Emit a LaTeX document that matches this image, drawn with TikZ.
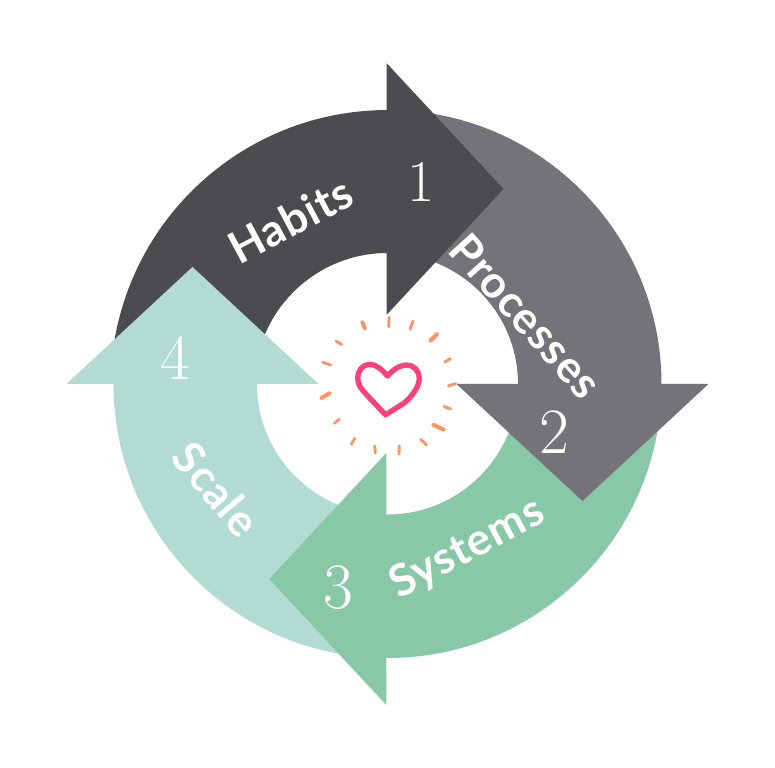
\documentclass[tikz,border=0pt]{standalone}
\usepackage{xcolor}
\usepackage{fontspec}
\usepackage{tikz}
\usetikzlibrary{positioning}
\newfontfamily\wordfont[LetterSpace=2]{Lato}
\definecolor{habitsgray}{HTML}{4C4B50}
\definecolor{processgray}{HTML}{747379}
\definecolor{systemsgreen}{HTML}{89C8A6}
\definecolor{scaleteal}{HTML}{B2DBD3}
\definecolor{heartpink}{HTML}{FC4079}
\definecolor{sparkorange}{HTML}{FF9264}
% one quarter of the ring and one arrow head, both for the top left
\def\ringpart{(178:274) arc[start angle=178,end angle=90,radius=274] -- (3,274) -- (3,130.5) -- (0,130.5) arc[start angle=90,end angle=178,radius=130.5] -- cycle}
\def\headpart{(0,321) -- (117,195) -- (0,69) -- cycle}

\begin{document}
\begin{tikzpicture}[x=0.025cm,y=0.025cm]
    \tikzstyle{word label} = [text=white, font=\wordfont\bfseries\fontsize{31.5}{31.5}\selectfont]
    \tikzstyle{number label} = [text=white, font=\fontsize{46}{46}\selectfont]
    \tikzstyle{spark} = [sparkorange, line cap=round, line width=2pt]
    \tikzstyle{big spark} = [spark, line width=2.8pt]
    \useasboundingbox (-387.5,-384) rectangle (387.5,384);
    % the ring, each head lies on the next quarter
    \fill[habitsgray] (-274.3,35.5) arc[start angle=172,end angle=90,radius=277] -- (3,274) -- (3,131)
      -- (0,131) arc[start angle=90,end angle=172,radius=133] -- cycle;
    \fill[scaleteal, rotate=90] \ringpart;
    \fill[scaleteal, rotate=90] \headpart;
    \fill[systemsgreen, rotate=180] \ringpart;
    \fill[systemsgreen, xshift=-0.03cm, rotate=180] \headpart;
    \fill[processgray, rotate=-90] \ringpart;
    \fill[processgray, rotate=-90] \headpart;
    \fill[habitsgray, xshift=-0.025cm] \headpart;
    % labels
    \node[word label, rotate=28] (habits) at (-97,164) {Habits};
    \node[word label, rotate=-48] (processes) at (138.5,68) {Processes};
    \node[word label, rotate=28] (systems) at (80,-165) {Systems};
    \node[word label, rotate=-50] (scale) at (-171,-105) {Scale};
    \node[number label] (one) at (33.5,202) {\fontsize{42}{42}\selectfont 1};
    \node[number label] (two) at (166.5,-48) {2};
    \node[number label] (three) at (-49.5,-204) {3};
    \node[number label] (four) at (-212.5,26) {4};
    % heart and sparks
    \draw[heartpink, line width=3.8pt, line join=round]
      (0,8) .. controls (-5,14) and (-11,19.7) .. (-18,19.7)
      .. controls (-25,19.7) and (-29.8,13) .. (-29.8,6)
      .. controls (-29.8,-1) and (-26,-5) .. (-22,-9.5)
      -- (-2,-30.7) -- (16,-19.5)
      .. controls (24,-13) and (31.8,-3) .. (31.8,6)
      .. controls (31.8,13) and (26,19) .. (19.8,19)
      .. controls (12,19) and (5,14) .. (0,8) -- cycle;
    \foreach \xa/\ya/\xb/\yb in {1.5/66.7/1.2/57.3, 25.5/63/22.5/54.7, 62.8/25.3/57.2/22,
      68.2/0.3/60.8/-1.7, 56.5/-22.3/63.2/-25, 33.2/-55.3/39.2/-61, 11.8/-61.7/11.5/-70.3,
      -12.8/-62/-12.2/-69, -32.8/-54.3/-36.2/-60.3, -48.2/-35.3/-53.2/-39.3,
      -64.8/21.7/-56.8/19, -51.5/43/-45.8/39.7}
      \draw[spark] (\xa,\ya) -- (\xb,\yb);
    \foreach \xa/\ya/\xb/\yb in {-25.2/62/-22.5/55.3, 49.8/50.3/42.5/43, 45.5/-40.7/56.5/-45.7,
      -57.5/-9/-66.5/-14.3}
      \draw[big spark] (\xa,\ya) -- (\xb,\yb);
  \end{tikzpicture}
\end{document}
